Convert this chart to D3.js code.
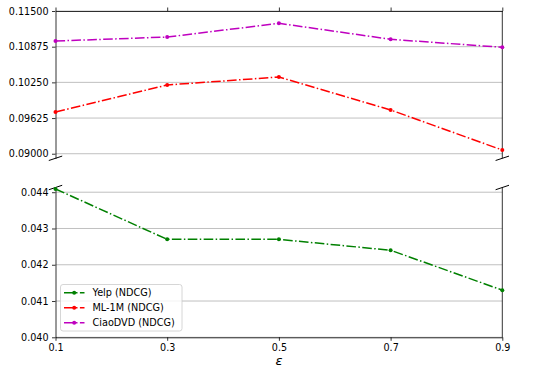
<!DOCTYPE html>
<html><head><meta charset="utf-8">
<script src="https://cdn.jsdelivr.net/npm/d3@7"></script>
<style>
body{margin:0;background:#fff;}
svg{display:block;font-family:"DejaVu Sans",sans-serif;}
</style></head>
<body><svg id="c" width="555" height="376"></svg>
<script>
const xVals = [0.1, 0.3, 0.5, 0.7, 0.9];
const xTickLabels = ["0.1", "0.3", "0.5", "0.7", "0.9"];
const yelp = [0.04409, 0.04270, 0.04270, 0.04240, 0.04130];
const ml1m = [0.09731, 0.10204, 0.10344, 0.09766, 0.09065];
const ciao = [0.10974, 0.11044, 0.11284, 0.11004, 0.10864];
const topTicks = [0.09, 0.09625, 0.1025, 0.10875, 0.115];
const botTicks = [0.040, 0.041, 0.042, 0.043, 0.044];
const seriesNames = ["Yelp (NDCG)", "ML-1M (NDCG)", "CiaoDVD (NDCG)"];
const seriesColors = ["#008000", "#ff0000", "#bf00bf"];

const svg = d3.select("#c");
const L = 55.5, R = 502.3;
const x = d3.scaleLinear().domain([0.1, 0.9]).range([L, R]);
const yT = d3.scaleLinear().domain([0.0892, 0.115]).range([158.3, 11]);
const yB = d3.scaleLinear().domain([0.040, 0.04413]).range([337.3, 187.5]);
const fs = 9.6;
const dash = "9.6,2.4,1.5,2.4";

function panel(y, ticks, fmt, topPanel) {
  const g = svg.append("g");
  const [y0, y1] = y.range();
  g.selectAll("line.grid").data(ticks).join("line")
    .attr("x1", L).attr("x2", R)
    .attr("y1", d => y(d)).attr("y2", d => y(d))
    .attr("stroke", "#b0b0b0").attr("stroke-width", 0.8);
  const ay = g.append("g").attr("transform", `translate(${L},0)`)
    .call(d3.axisLeft(y).tickValues(ticks).tickFormat(d3.format(fmt)).tickSizeInner(3.5).tickSizeOuter(0).tickPadding(3.5));
  ay.attr("font-family", "DejaVu Sans").attr("font-size", fs);
  ay.select(".domain").attr("stroke-width", 0.8);
  ay.selectAll(".tick line").attr("stroke-width", 0.8);
  ay.selectAll("text").attr("fill", "#000");
  g.append("line").attr("x1", R).attr("x2", R).attr("y1", y0).attr("y2", y1).attr("stroke", "#000").attr("stroke-width", 0.8);
  if (topPanel) {
    const ax = g.append("g").attr("transform", `translate(0,${y1})`)
      .call(d3.axisTop(x).tickValues(xVals).tickFormat("").tickSizeInner(3.5).tickSizeOuter(0));
    ax.select(".domain").attr("stroke-width", 0.8);
    ax.selectAll(".tick line").attr("stroke-width", 0.8);
  } else {
    const ax = g.append("g").attr("transform", `translate(0,${y0})`)
      .call(d3.axisBottom(x).tickValues(xVals).tickFormat((d, i) => xTickLabels[i]).tickSizeInner(3.5).tickSizeOuter(0).tickPadding(3.5));
    ax.attr("font-family", "DejaVu Sans").attr("font-size", fs);
    ax.select(".domain").attr("stroke-width", 0.8);
    ax.selectAll(".tick line").attr("stroke-width", 0.8);
    ax.selectAll("text").attr("fill", "#000");
  }
  const w = R - L, h = Math.abs(y0 - y1), dx = 0.015 * w, dy = 0.015 * h;
  const yy = topPanel ? y0 : y1;
  [L, R].forEach(cx => {
    g.append("line").attr("x1", cx - dx).attr("y1", yy + dy).attr("x2", cx + dx).attr("y2", yy - dy)
      .attr("stroke", "#000").attr("stroke-width", 1);
  });
  return g;
}

function drawSeries(g, y, vals, color) {
  const line = d3.line().x((d, i) => x(xVals[i])).y(d => y(d));
  g.append("path").datum(vals).attr("d", line).attr("fill", "none")
    .attr("stroke", color).attr("stroke-width", 1.5).attr("stroke-dasharray", dash);
  g.selectAll(null).data(vals).join("circle")
    .attr("cx", (d, i) => x(xVals[i])).attr("cy", d => y(d)).attr("r", 2).attr("fill", color);
}

const gT = panel(yT, topTicks, ".5f", true);
const gB = panel(yB, botTicks, ".3f", false);
drawSeries(gT, yT, ml1m, seriesColors[1]);
drawSeries(gT, yT, ciao, seriesColors[2]);
drawSeries(gB, yB, yelp, seriesColors[0]);

svg.append("text").attr("x", (L + R) / 2).attr("y", 365).attr("text-anchor", "middle")
  .attr("font-family", "DejaVu Sans").attr("font-style", "italic").attr("font-size", 13).text("ε");

const lg = svg.append("g");
lg.append("rect").attr("x", 60.5).attr("y", 284.5).attr("width", 121.5).attr("height", 46.5).attr("rx", 2.5)
  .attr("fill", "#fff").attr("fill-opacity", 0.8).attr("stroke", "#cccccc").attr("stroke-width", 0.8);
seriesNames.forEach((name, i) => {
  const yy = 292.7 + i * 15;
  lg.append("line").attr("x1", 64).attr("x2", 84.5).attr("y1", yy).attr("y2", yy)
    .attr("stroke", seriesColors[i]).attr("stroke-width", 1.5).attr("stroke-dasharray", dash);
  lg.append("circle").attr("cx", 74.2).attr("cy", yy).attr("r", 2).attr("fill", seriesColors[i]);
  lg.append("text").attr("x", 92.5).attr("y", yy + 3.5).attr("font-size", 9.7).attr("font-family", "DejaVu Sans").text(name);
});
</script></body></html>
